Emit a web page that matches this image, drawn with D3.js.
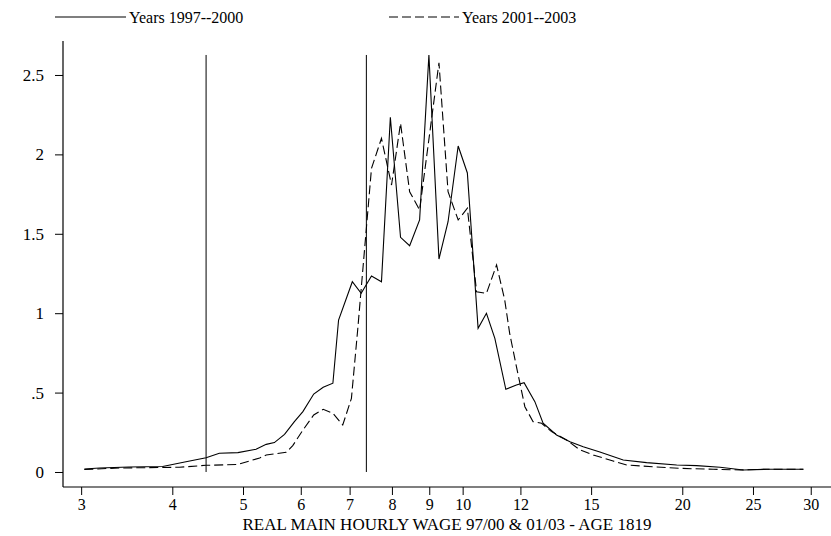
<!DOCTYPE html>
<html>
<head>
<meta charset="utf-8">
<script src="https://cdn.jsdelivr.net/npm/d3@7"></script>
<style>
  body { margin: 0; background: #fff; }
  svg { display: block; font-family: "Liberation Serif", "Times New Roman", serif; }
</style>
</head>
<body>
<div id="chart-area"></div>
<script>
// wage grid (log axis) and estimated densities
const wage9700 = [3.03, 3.18, 3.49, 3.88, 4.16, 4.45, 4.64, 4.92, 5.21, 5.38, 5.52, 5.70, 5.88, 6.04,
  6.25, 6.44, 6.64, 6.76, 7.06, 7.26, 7.50, 7.74, 7.96, 8.22, 8.46, 8.73, 8.99, 9.28, 9.55, 9.86,
  10.15, 10.50, 10.78, 11.07, 11.46, 11.85, 12.14, 12.56, 12.89, 13.45, 14.03, 14.63, 15.42, 16.60,
  17.87, 19.65, 20.93, 22.53, 24.25, 26.11, 29.31];
const dens9700 = [0.019, 0.025, 0.031, 0.035, 0.063, 0.090, 0.118, 0.122, 0.143, 0.174, 0.185, 0.237,
  0.317, 0.380, 0.491, 0.533, 0.559, 0.957, 1.198, 1.125, 1.234, 1.198, 2.234, 1.478, 1.425, 1.587,
  2.626, 1.341, 1.576, 2.053, 1.883, 0.905, 0.999, 0.842, 0.521, 0.548, 0.562, 0.443, 0.307, 0.233,
  0.191, 0.159, 0.126, 0.076, 0.059, 0.044, 0.040, 0.030, 0.013, 0.017, 0.017];

const wage0103 = [3.03, 3.39, 4.09, 4.45, 4.91, 5.27, 5.38, 5.73, 5.85, 6.04, 6.25, 6.44, 6.64, 6.85,
  7.04, 7.18, 7.50, 7.74, 7.99, 8.22, 8.46, 8.73, 9.28, 9.55, 9.86, 10.15, 10.45, 10.78, 11.13,
  11.42, 11.60, 11.85, 12.17, 12.49, 12.83, 13.24, 13.88, 14.48, 15.10, 16.08, 16.78, 18.25, 19.85,
  22.05, 24.00, 26.11, 29.31];
const dens0103 = [0.016, 0.025, 0.030, 0.042, 0.047, 0.088, 0.107, 0.124, 0.166, 0.264, 0.359, 0.395,
  0.370, 0.296, 0.464, 0.894, 1.912, 2.101, 1.807, 2.196, 1.765, 1.650, 2.577, 1.765, 1.587, 1.661,
  1.135, 1.125, 1.304, 1.083, 0.873, 0.663, 0.411, 0.317, 0.307, 0.254, 0.202, 0.139, 0.107, 0.069,
  0.044, 0.033, 0.023, 0.017, 0.013, 0.017, 0.017];

// reference lines (minimum wage levels) and their height
const refWages = [4.45, 7.38];
const refTop = 2.626;

const xTicks = [3, 4, 5, 6, 7, 8, 9, 10, 12, 15, 20, 25, 30];
const yTicks = [0, 0.5, 1, 1.5, 2, 2.5];
const yTickLabels = ["0", ".5", "1", "1.5", "2", "2.5"];

const seriesNames = ["Years 1997--2000", "Years 2001--2003"];

const chartWidth = 831;
const chartHeight = 536;
const plot = {left: 63, right: 831, top: 41, bottom: 487};

const svg = d3.select("#chart-area").append("svg")
  .attr("width", chartWidth)
  .attr("height", chartHeight);

const x = d3.scaleLog()
  .domain([2.833, 31.98])
  .range([plot.left, plot.right]);

const y = d3.scaleLinear()
  .domain([-0.0945, 2.714])
  .range([plot.bottom, plot.top]);

// x axis
const xAxisCall = d3.axisBottom(x)
  .tickValues(xTicks)
  .tickFormat(d3.format("d"))
  .tickSize(8)
  .tickPadding(4);
const xAxis = svg.append("g")
  .attr("transform", `translate(0, ${plot.bottom})`)
  .call(xAxisCall);
xAxis.select(".domain").remove();
xAxis.selectAll("text").attr("font-size", "16px").attr("fill", "#000").attr("font-family", "Liberation Serif");

// y axis
const yAxisCall = d3.axisLeft(y)
  .tickValues(yTicks)
  .tickFormat((d, i) => yTickLabels[i])
  .tickSize(8)
  .tickPadding(11);
const yAxis = svg.append("g")
  .attr("transform", `translate(${plot.left}, 0)`)
  .call(yAxisCall);
yAxis.select(".domain").remove();
yAxis.selectAll("text").attr("font-size", "17px").attr("fill", "#000").attr("font-family", "Liberation Serif");

// axis lines
svg.append("line")
  .attr("x1", plot.left).attr("x2", plot.right)
  .attr("y1", plot.bottom).attr("y2", plot.bottom)
  .attr("stroke", "#000").attr("stroke-width", 1.2);
svg.append("line")
  .attr("x1", plot.left).attr("x2", plot.left)
  .attr("y1", plot.top).attr("y2", plot.bottom)
  .attr("stroke", "#000").attr("stroke-width", 1.2);

// x title
svg.append("text")
  .attr("x", (plot.left + plot.right) / 2)
  .attr("y", 530)
  .attr("text-anchor", "middle")
  .attr("font-size", "17px")
  .text("REAL MAIN HOURLY WAGE 97/00 & 01/03 - AGE 1819");

// reference lines
svg.selectAll(".refline").data(refWages).enter().append("line")
  .attr("class", "refline")
  .attr("x1", d => x(d)).attr("x2", d => x(d))
  .attr("y1", y(0)).attr("y2", y(refTop))
  .attr("stroke", "#000").attr("stroke-width", 1);

const line = d3.line()
  .x(d => x(d[0]))
  .y(d => y(d[1]));

svg.append("path")
  .datum(d3.zip(wage9700, dens9700))
  .attr("d", line)
  .attr("fill", "none")
  .attr("stroke", "#000")
  .attr("stroke-width", 1.1);

svg.append("path")
  .datum(d3.zip(wage0103, dens0103))
  .attr("d", line)
  .attr("fill", "none")
  .attr("stroke", "#000")
  .attr("stroke-width", 1.1)
  .attr("stroke-dasharray", "9,4");

// legend
const legend = [
  {name: seriesNames[0], x1: 55, x2: 126, dash: null},
  {name: seriesNames[1], x1: 389, x2: 459, dash: "9,4"}
];
const lg = svg.selectAll(".legend").data(legend).enter().append("g")
  .attr("class", "legend");
lg.append("line")
  .attr("x1", d => d.x1).attr("x2", d => d.x2)
  .attr("y1", 17).attr("y2", 17)
  .attr("stroke", "#000").attr("stroke-width", 1.1)
  .attr("stroke-dasharray", d => d.dash);
lg.append("text")
  .attr("x", d => d.x2 + 3)
  .attr("y", 23)
  .attr("font-size", "16px")
  .text(d => d.name);
</script>
</body>
</html>
